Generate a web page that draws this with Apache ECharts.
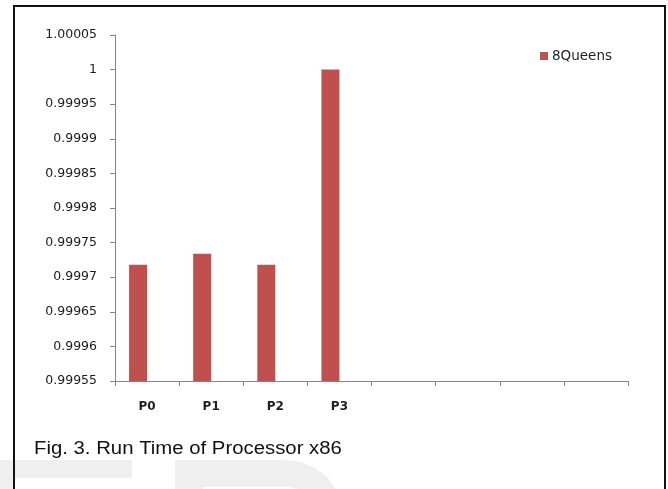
<!DOCTYPE html>
<html>
<head>
<meta charset="utf-8">
<script src="https://cdn.jsdelivr.net/npm/echarts@6/dist/echarts.min.js"></script>
<style>
html,body{margin:0;padding:0;background:#fff;}
#chart{width:668px;height:489px;}
</style>
</head>
<body>
<div id="chart"></div>
<script>
var categories = ['P0', 'P1', 'P2', 'P3', '', '', '', ''];
var queensValues = [0.999718, 0.999734, 0.999718, 1.0];
var yTickValues = [0.99955, 0.9996, 0.99965, 0.9997, 0.99975, 0.9998, 0.99985, 0.9999, 0.99995, 1, 1.00005];
var yTickLabels = ['0.99955', '0.9996', '0.99965', '0.9997', '0.99975', '0.9998', '0.99985', '0.9999', '0.99995', '1', '1.00005'];
var seriesName = '8Queens';
var caption = 'Fig. 3. Run Time of Processor x86';

var yMin = yTickValues[0];
var yMax = yTickValues[yTickValues.length - 1];
var yInterval = 0.00005;

var chart = echarts.init(document.getElementById('chart'), null, {renderer: 'canvas'});
var option = {
  animation: false,
  backgroundColor: '#ffffff',
  grid: {left: 115, right: 40, top: 35, bottom: 108, containLabel: false},
  legend: {
    data: [seriesName],
    left: 535, top: 44,
    itemWidth: 8, itemHeight: 8, itemGap: 5,
    icon: 'rect',
    textStyle: {fontFamily: 'DejaVu Sans', fontSize: 13.5, color: '#1f1f1f', padding: [0, 0, 0, -1]}
  },
  xAxis: {
    type: 'category',
    data: categories,
    boundaryGap: true,
    axisLine: {lineStyle: {color: '#868686', width: 1}},
    axisTick: {show: true, length: 5, lineStyle: {color: '#868686'}},
    axisLabel: {margin: 20, fontFamily: 'DejaVu Sans', fontSize: 12, fontWeight: 'bold', color: '#1f1f1f', interval: 0}
  },
  yAxis: {
    type: 'value',
    min: yMin, max: yMax, interval: yInterval,
    axisLine: {show: true, lineStyle: {color: '#868686', width: 1}},
    axisTick: {show: true, length: 5, lineStyle: {color: '#868686'}},
    splitLine: {show: false},
    axisLabel: {
      margin: 18, fontFamily: 'DejaVu Sans', fontSize: 12.5, color: '#1a1a1a',
      formatter: function (v) {
        var idx = Math.round((v - yMin) / yInterval);
        return yTickLabels[idx] !== undefined ? yTickLabels[idx] : '';
      }
    }
  },
  series: [
    {
      name: seriesName, type: 'bar', data: queensValues,
      barWidth: 18, barGap: '0%',
      itemStyle: {color: '#C0504D'}
    },
    {
      name: 'empty', type: 'bar', data: [],
      barWidth: 18, barGap: '0%'
    }
  ],
  graphic: [
    {type: 'rect', z: -10, silent: true, shape: {x: 0, y: 460, width: 132, height: 18}, style: {fill: '#efefef'}},
    {type: 'rect', z: -10, silent: true, shape: {x: 0, y: 478, width: 13, height: 11}, style: {fill: '#efefef'}},
    {type: 'polygon', z: -10, silent: true,
      shape: {points: [[175, 489], [175, 460], [285, 460], [300, 462], [315, 468], [327, 477], [336, 489], [298, 489], [290, 487], [203, 487], [203, 489]]},
      style: {fill: '#efefef'}},
    {type: 'rect', z: 100, silent: true, shape: {x: 14, y: 6, width: 651, height: 500}, style: {fill: 'none', stroke: '#111', lineWidth: 2}},
    {type: 'text', z: 100, silent: true, x: 34, y: 449, scaleX: 1.13,
      style: {text: caption, fontFamily: 'Liberation Sans', fontSize: 18, fill: '#111', verticalAlign: 'middle'}}
  ]
};
chart.setOption(option);
</script>
</body>
</html>
